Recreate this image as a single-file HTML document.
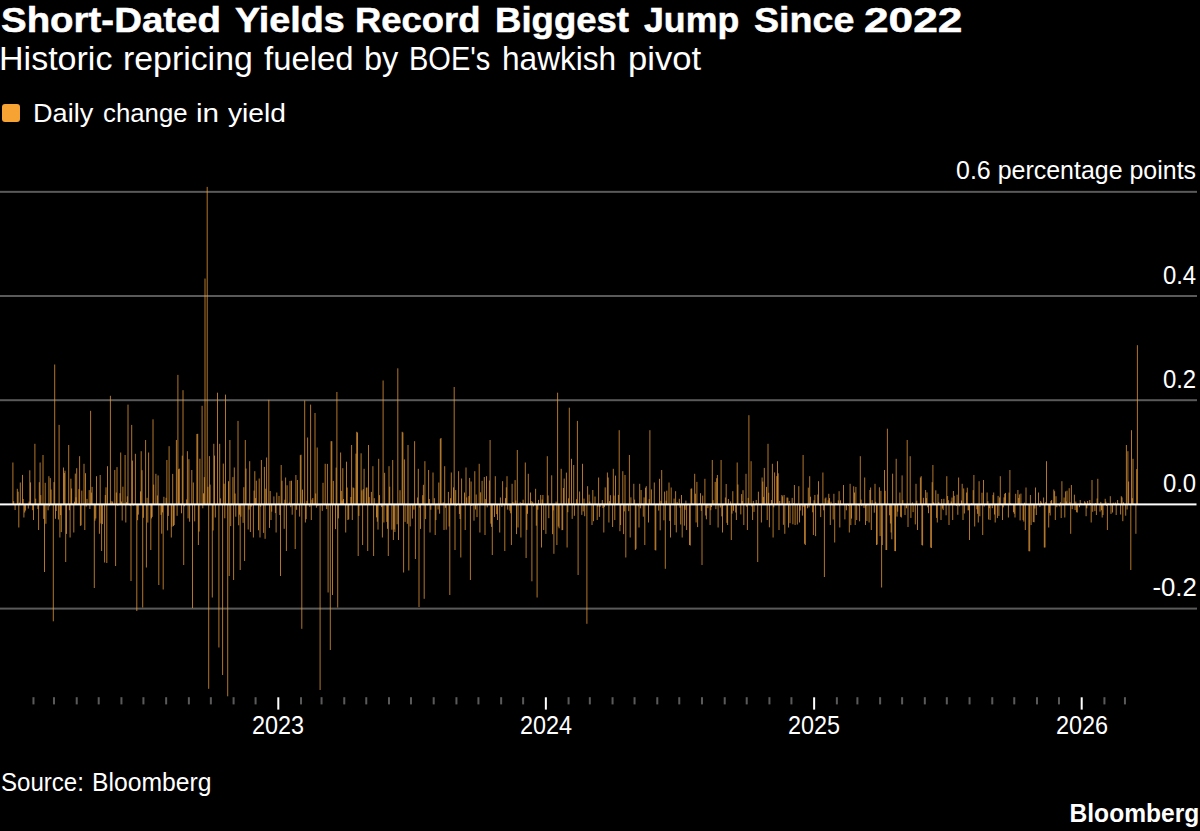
<!DOCTYPE html>
<html><head><meta charset="utf-8"><style>
html,body{margin:0;padding:0;background:#000;}
body{width:1200px;height:831px;overflow:hidden;position:relative;font-family:"Liberation Sans",sans-serif;color:#fff;}
.t{position:absolute;white-space:nowrap;line-height:1;}
.w{position:absolute;white-space:nowrap;line-height:1;transform-origin:0 0;}
#title{left:1px;top:3.4px;font-size:35.5px;font-weight:700;transform:scaleX(1.0837);transform-origin:0 0;-webkit-text-stroke:0.5px #fff;}
#sub{left:-0.5px;top:40.9px;font-size:34px;transform:scaleX(0.975);transform-origin:0 0;}
#legsw{position:absolute;left:2px;top:104px;width:18px;height:18px;border-radius:3px;background:#F7A333;}
#leg{left:33.9px;top:99.7px;font-size:26px;transform:scaleX(1.054);transform-origin:0 0;}
.yl{position:absolute;right:3.5px;font-size:26px;line-height:1;white-space:nowrap;transform-origin:100% 0;}
.xl{position:absolute;top:712.2px;width:200px;text-align:center;font-size:26px;line-height:1;transform:scaleX(0.9);transform-origin:50% 0;}
#src{left:1px;top:770px;font-size:25px;transform:scaleX(0.98);transform-origin:0 0;}
#logo{right:0.5px;top:799.5px;font-size:26px;font-weight:700;transform:scaleX(0.945);transform-origin:100% 0;}
svg{position:absolute;left:0;top:0;}
</style></head><body>
<svg width="1200" height="831" viewBox="0 0 1200 831"><rect x="0" y="190.85" width="1197" height="2" fill="#5a5a5a"/><rect x="0" y="295.00" width="1197" height="2" fill="#5a5a5a"/><rect x="0" y="399.20" width="1197" height="2" fill="#5a5a5a"/><rect x="0" y="607.60" width="1197" height="2" fill="#5a5a5a"/><path d="M12.9 504.4V462.5M13.7 504.4V501.2M14.4 504.4V505.1M15.1 504.4V510.0M17.3 504.4V488.8M18.1 504.4V491.7M18.8 504.4V527.5M19.5 504.4V502.7M20.3 504.4V482.5M22.5 504.4V474.9M23.2 504.4V499.0M23.9 504.4V517.5M24.7 504.4V512.5M25.4 504.4V510.6M27.6 504.4V504.8M28.3 504.4V508.6M29.1 504.4V501.6M29.8 504.4V470.3M30.5 504.4V482.4M32.7 504.4V510.2M33.5 504.4V520.0M34.2 504.4V504.8M34.9 504.4V443.8M35.7 504.4V498.7M37.9 504.4V509.1M38.6 504.4V530.0M39.3 504.4V482.2M40.1 504.4V462.5M40.8 504.4V495.1M43.0 504.4V455.0M43.7 504.4V518.9M44.5 504.4V572.0M45.2 504.4V482.8M45.9 504.4V523.8M48.1 504.4V510.3M48.9 504.4V476.2M49.6 504.4V506.3M50.3 504.4V478.1M51.1 504.4V489.5M53.3 504.4V621.3M54.0 504.4V482.1M54.7 504.4V364.5M55.5 504.4V518.8M56.2 504.4V511.0M58.4 504.4V519.5M59.1 504.4V424.9M59.9 504.4V537.5M60.6 504.4V515.1M61.3 504.4V532.1M63.5 504.4V467.5M64.3 504.4V473.0M65.0 504.4V470.7M65.7 504.4V562.0M66.5 504.4V533.9M68.7 504.4V445.0M69.4 504.4V510.2M70.1 504.4V537.5M70.9 504.4V478.7M71.6 504.4V488.5M73.8 504.4V532.5M74.5 504.4V501.7M75.3 504.4V473.6M76.0 504.4V497.3M76.7 504.4V468.2M78.9 504.4V489.1M79.6 504.4V456.2M80.4 504.4V525.9M81.1 504.4V525.3M81.8 504.4V490.6M84.0 504.4V463.8M84.8 504.4V530.0M85.5 504.4V473.2M86.2 504.4V506.6M87.0 504.4V498.9M89.2 504.4V490.1M89.9 504.4V509.0M90.6 504.4V410.8M91.4 504.4V492.6M92.1 504.4V486.9M94.3 504.4V588.0M95.0 504.4V520.7M95.8 504.4V518.5M96.5 504.4V476.2M97.2 504.4V505.0M99.4 504.4V533.8M100.2 504.4V475.0M100.9 504.4V523.5M101.6 504.4V551.0M102.4 504.4V524.1M104.6 504.4V562.5M105.3 504.4V495.0M106.0 504.4V487.3M106.8 504.4V563.0M107.5 504.4V466.2M109.7 504.4V503.5M110.4 504.4V395.8M111.2 504.4V501.2M111.9 504.4V503.7M112.6 504.4V501.5M114.8 504.4V470.0M115.6 504.4V566.0M116.3 504.4V492.5M117.0 504.4V467.1M117.8 504.4V505.8M120.0 504.4V493.2M120.7 504.4V452.5M121.4 504.4V501.5M122.2 504.4V520.5M122.9 504.4V486.7M125.1 504.4V455.0M125.8 504.4V522.5M126.6 504.4V502.1M127.3 504.4V496.3M128.0 504.4V404.6M130.2 504.4V505.9M131.0 504.4V581.0M131.7 504.4V424.9M132.4 504.4V460.6M133.2 504.4V505.7M135.4 504.4V453.8M136.1 504.4V504.5M136.8 504.4V611.0M137.6 504.4V520.2M138.3 504.4V514.6M140.5 504.4V491.4M141.2 504.4V451.2M142.0 504.4V470.2M142.7 504.4V607.5M143.4 504.4V517.8M145.6 504.4V440.0M146.4 504.4V567.5M147.1 504.4V497.8M147.8 504.4V522.6M148.6 504.4V452.5M150.8 504.4V550.0M151.5 504.4V518.4M152.2 504.4V516.9M153.0 504.4V419.3M153.7 504.4V484.6M155.9 504.4V473.8M156.6 504.4V503.9M157.4 504.4V495.5M158.1 504.4V475.4M158.8 504.4V585.0M161.0 504.4V514.9M161.7 504.4V533.7M162.5 504.4V512.4M163.2 504.4V589.5M163.9 504.4V496.8M166.1 504.4V497.8M166.9 504.4V460.0M167.6 504.4V530.4M168.3 504.4V515.9M169.1 504.4V446.2M171.3 504.4V537.5M172.0 504.4V526.7M172.7 504.4V473.9M173.5 504.4V526.1M174.2 504.4V525.0M176.4 504.4V440.0M177.1 504.4V515.8M177.9 504.4V374.9M178.6 504.4V469.2M179.3 504.4V468.6M181.5 504.4V513.3M182.3 504.4V455.7M183.0 504.4V390.2M183.7 504.4V565.0M184.5 504.4V506.3M186.7 504.4V499.4M187.4 504.4V451.2M188.1 504.4V518.4M188.9 504.4V459.2M189.6 504.4V521.7M191.8 504.4V470.0M192.5 504.4V608.0M193.3 504.4V482.5M194.0 504.4V504.2M194.7 504.4V521.4M196.9 504.4V434.0M197.7 504.4V433.8M198.4 504.4V545.0M199.1 504.4V531.6M199.9 504.4V458.7M202.1 504.4V405.8M202.8 504.4V508.3M203.5 504.4V493.3M204.3 504.4V477.1M205.0 504.4V278.5M207.2 504.4V186.9M207.9 504.4V486.8M208.7 504.4V688.8M209.4 504.4V456.1M210.1 504.4V484.6M212.3 504.4V597.5M213.1 504.4V530.5M213.8 504.4V443.8M214.5 504.4V455.6M215.3 504.4V517.5M217.5 504.4V392.7M218.2 504.4V504.6M218.9 504.4V647.5M219.7 504.4V443.8M220.4 504.4V498.4M222.6 504.4V675.0M223.3 504.4V463.6M224.1 504.4V483.7M224.8 504.4V518.3M225.5 504.4V394.6M227.7 504.4V696.3M228.5 504.4V481.2M229.2 504.4V576.0M229.9 504.4V440.0M230.7 504.4V526.1M232.9 504.4V477.1M233.6 504.4V580.0M234.3 504.4V467.5M235.1 504.4V493.5M235.8 504.4V516.7M238.0 504.4V420.9M238.7 504.4V525.3M239.4 504.4V514.7M240.2 504.4V570.0M240.9 504.4V516.7M243.1 504.4V522.9M243.8 504.4V487.2M244.6 504.4V561.0M245.3 504.4V440.0M246.0 504.4V468.5M248.2 504.4V529.5M249.0 504.4V509.6M249.7 504.4V461.2M250.4 504.4V532.0M251.2 504.4V506.7M253.4 504.4V537.5M254.1 504.4V490.6M254.8 504.4V471.2M255.6 504.4V498.1M256.3 504.4V480.7M258.5 504.4V530.3M259.2 504.4V478.5M260.0 504.4V537.5M260.7 504.4V506.8M261.4 504.4V460.0M263.6 504.4V532.9M264.4 504.4V466.9M265.1 504.4V538.8M265.8 504.4V488.7M266.6 504.4V457.5M268.8 504.4V399.9M269.5 504.4V527.9M270.2 504.4V491.0M271.0 504.4V520.0M271.7 504.4V511.7M273.9 504.4V496.4M274.6 504.4V504.6M275.4 504.4V513.1M276.1 504.4V532.5M276.8 504.4V492.5M279.0 504.4V496.0M279.8 504.4V515.0M280.5 504.4V576.0M281.2 504.4V465.0M282.0 504.4V480.7M284.2 504.4V528.8M284.9 504.4V499.7M285.6 504.4V477.5M286.4 504.4V551.0M287.1 504.4V485.3M289.3 504.4V502.5M290.0 504.4V480.9M290.8 504.4V507.2M291.5 504.4V480.7M292.2 504.4V514.7M294.4 504.4V503.5M295.2 504.4V549.0M295.9 504.4V475.0M296.6 504.4V509.8M297.4 504.4V480.0M299.6 504.4V516.6M300.3 504.4V455.2M301.0 504.4V454.7M301.8 504.4V628.8M302.5 504.4V489.6M304.7 504.4V400.5M305.4 504.4V522.5M306.2 504.4V519.2M306.9 504.4V500.8M307.6 504.4V437.5M309.8 504.4V506.9M310.6 504.4V404.6M311.3 504.4V520.0M312.0 504.4V499.6M312.8 504.4V498.0M315.0 504.4V413.0M315.7 504.4V493.5M316.4 504.4V507.7M317.2 504.4V447.5M317.9 504.4V506.1M320.1 504.4V690.0M320.8 504.4V504.1M321.5 504.4V504.2M322.3 504.4V510.9M323.0 504.4V482.8M325.2 504.4V463.8M325.9 504.4V505.3M326.7 504.4V509.1M327.4 504.4V463.9M328.1 504.4V592.5M330.3 504.4V650.0M331.1 504.4V441.2M331.8 504.4V441.2M332.5 504.4V595.0M333.3 504.4V480.9M335.5 504.4V529.1M336.2 504.4V467.6M336.9 504.4V392.0M337.7 504.4V607.5M338.4 504.4V518.4M340.6 504.4V452.5M341.3 504.4V490.9M342.1 504.4V500.6M342.8 504.4V468.2M343.5 504.4V499.0M345.7 504.4V532.5M346.5 504.4V461.7M347.2 504.4V487.5M347.9 504.4V520.0M348.7 504.4V519.4M350.9 504.4V497.0M351.6 504.4V445.0M352.3 504.4V520.0M353.1 504.4V487.4M353.8 504.4V488.1M356.0 504.4V453.6M356.7 504.4V431.8M357.5 504.4V432.5M358.2 504.4V556.0M358.9 504.4V515.9M361.1 504.4V453.3M361.9 504.4V490.4M362.6 504.4V545.0M363.3 504.4V489.1M364.1 504.4V468.8M366.3 504.4V487.6M367.0 504.4V487.5M367.7 504.4V551.0M368.5 504.4V445.0M369.2 504.4V497.1M371.4 504.4V491.9M372.1 504.4V504.1M372.9 504.4V466.2M373.6 504.4V556.0M374.3 504.4V498.2M376.5 504.4V517.4M377.3 504.4V521.7M378.0 504.4V529.6M378.7 504.4V458.8M379.5 504.4V495.1M381.7 504.4V507.1M382.4 504.4V537.5M383.1 504.4V380.5M383.9 504.4V522.5M384.6 504.4V472.8M386.8 504.4V521.9M387.5 504.4V528.8M388.3 504.4V556.0M389.0 504.4V466.2M389.7 504.4V486.7M391.9 504.4V529.7M392.7 504.4V460.0M393.4 504.4V540.0M394.1 504.4V529.4M394.9 504.4V532.0M397.1 504.4V524.3M397.8 504.4V368.3M398.5 504.4V540.0M399.2 504.4V503.8M400.0 504.4V490.2M402.2 504.4V431.8M402.9 504.4V432.5M403.6 504.4V572.5M404.4 504.4V459.4M405.1 504.4V521.9M407.3 504.4V523.8M408.0 504.4V445.0M408.8 504.4V570.5M409.5 504.4V504.4M410.2 504.4V526.4M412.4 504.4V518.6M413.2 504.4V505.3M413.9 504.4V509.7M414.6 504.4V441.2M415.4 504.4V559.0M417.6 504.4V497.5M418.3 504.4V468.8M419.0 504.4V607.0M419.8 504.4V507.6M420.5 504.4V528.9M422.7 504.4V495.2M423.4 504.4V484.8M424.2 504.4V598.8M424.9 504.4V461.2M425.6 504.4V519.1M427.8 504.4V505.4M428.6 504.4V470.0M429.3 504.4V499.0M430.0 504.4V532.5M430.8 504.4V509.8M433.0 504.4V472.5M433.7 504.4V504.5M434.4 504.4V498.2M435.2 504.4V535.0M435.9 504.4V520.1M438.1 504.4V509.5M438.8 504.4V482.5M439.6 504.4V513.7M440.3 504.4V438.8M441.0 504.4V438.0M443.2 504.4V502.3M444.0 504.4V530.0M444.7 504.4V466.2M445.4 504.4V507.8M446.2 504.4V529.7M448.4 504.4V491.9M449.1 504.4V526.5M449.8 504.4V595.0M450.6 504.4V498.2M451.3 504.4V472.5M453.5 504.4V487.4M454.2 504.4V387.0M455.0 504.4V550.0M455.7 504.4V490.1M456.4 504.4V506.1M458.6 504.4V471.2M459.4 504.4V514.0M460.1 504.4V519.0M460.8 504.4V557.5M461.6 504.4V478.5M463.8 504.4V504.2M464.5 504.4V492.5M465.2 504.4V530.0M466.0 504.4V467.5M466.7 504.4V497.4M468.9 504.4V496.1M469.6 504.4V477.9M470.4 504.4V580.0M471.1 504.4V481.5M471.8 504.4V506.0M474.0 504.4V520.7M474.8 504.4V471.2M475.5 504.4V509.5M476.2 504.4V494.5M477.0 504.4V517.1M479.2 504.4V463.8M479.9 504.4V532.5M480.6 504.4V492.3M481.3 504.4V503.7M482.1 504.4V480.8M484.3 504.4V477.0M485.0 504.4V535.0M485.7 504.4V499.1M486.5 504.4V476.2M487.2 504.4V507.3M489.4 504.4V480.5M490.1 504.4V440.0M490.9 504.4V523.7M491.6 504.4V526.9M492.3 504.4V555.0M494.5 504.4V517.0M495.3 504.4V476.2M496.0 504.4V505.0M496.7 504.4V514.2M497.5 504.4V520.0M499.7 504.4V532.5M500.4 504.4V497.5M501.1 504.4V503.9M501.9 504.4V506.9M502.6 504.4V481.2M504.8 504.4V551.0M505.5 504.4V498.1M506.3 504.4V487.3M507.0 504.4V476.2M507.7 504.4V509.6M509.9 504.4V510.7M510.7 504.4V513.3M511.4 504.4V545.0M512.1 504.4V483.8M512.9 504.4V502.0M515.1 504.4V480.1M515.8 504.4V500.5M516.5 504.4V534.1M517.3 504.4V450.0M518.0 504.4V527.5M520.2 504.4V502.3M520.9 504.4V537.5M521.7 504.4V503.2M522.4 504.4V503.2M523.1 504.4V499.7M525.3 504.4V462.5M526.1 504.4V558.0M526.8 504.4V529.9M527.5 504.4V513.8M528.3 504.4V473.8M530.5 504.4V492.5M531.2 504.4V501.0M531.9 504.4V581.3M532.7 504.4V501.7M533.4 504.4V506.4M535.6 504.4V488.8M536.3 504.4V525.7M537.1 504.4V597.5M537.8 504.4V509.7M538.5 504.4V499.9M540.7 504.4V495.0M541.5 504.4V547.5M542.2 504.4V499.5M542.9 504.4V495.0M543.7 504.4V530.0M545.9 504.4V533.9M546.6 504.4V504.7M547.3 504.4V456.2M548.1 504.4V495.4M548.8 504.4V518.2M551.0 504.4V504.4M551.7 504.4V475.3M552.5 504.4V534.2M553.2 504.4V510.4M553.9 504.4V553.8M556.1 504.4V501.6M556.9 504.4V545.0M557.6 504.4V392.7M558.3 504.4V526.6M559.1 504.4V528.3M561.2 504.4V468.8M562.0 504.4V530.2M562.7 504.4V530.0M563.4 504.4V488.0M564.2 504.4V478.6M566.4 504.4V472.6M567.1 504.4V547.5M567.8 504.4V512.2M568.6 504.4V498.3M569.3 504.4V407.7M571.5 504.4V458.8M572.2 504.4V518.9M573.0 504.4V503.2M573.7 504.4V465.0M574.4 504.4V515.8M576.6 504.4V499.2M577.4 504.4V420.9M578.1 504.4V575.0M578.8 504.4V504.4M579.6 504.4V491.5M581.8 504.4V514.9M582.5 504.4V463.8M583.2 504.4V511.4M584.0 504.4V498.6M584.7 504.4V516.2M586.9 504.4V623.8M587.6 504.4V486.2M588.4 504.4V504.3M589.1 504.4V494.6M589.8 504.4V501.6M592.0 504.4V525.0M592.8 504.4V490.0M593.5 504.4V521.2M594.2 504.4V504.1M595.0 504.4V496.5M597.2 504.4V520.0M597.9 504.4V506.7M598.6 504.4V477.5M599.4 504.4V516.9M600.1 504.4V506.8M602.3 504.4V500.0M603.0 504.4V508.0M603.8 504.4V532.5M604.5 504.4V506.8M605.2 504.4V487.4M607.4 504.4V472.5M608.2 504.4V477.5M608.9 504.4V522.5M609.6 504.4V501.1M610.4 504.4V495.2M612.6 504.4V527.0M613.3 504.4V468.8M614.0 504.4V495.5M614.8 504.4V520.0M615.5 504.4V475.6M617.7 504.4V503.7M618.4 504.4V494.9M619.2 504.4V430.2M619.9 504.4V531.2M620.6 504.4V525.0M622.8 504.4V471.2M623.6 504.4V534.1M624.3 504.4V511.4M625.0 504.4V475.0M625.8 504.4V557.5M628.0 504.4V504.7M628.7 504.4V511.2M629.4 504.4V455.0M630.2 504.4V537.5M630.9 504.4V497.3M633.1 504.4V504.4M633.8 504.4V483.8M634.6 504.4V499.6M635.3 504.4V550.0M636.0 504.4V548.8M638.2 504.4V506.4M639.0 504.4V527.5M639.7 504.4V483.8M640.4 504.4V508.3M641.1 504.4V490.0M643.3 504.4V516.7M644.1 504.4V497.4M644.8 504.4V545.0M645.5 504.4V487.7M646.3 504.4V486.2M648.5 504.4V522.5M649.2 504.4V499.1M649.9 504.4V430.2M650.7 504.4V504.8M651.4 504.4V489.4M653.6 504.4V505.0M654.3 504.4V482.5M655.1 504.4V550.0M655.8 504.4V550.5M656.5 504.4V503.9M658.7 504.4V510.6M659.5 504.4V478.8M660.2 504.4V530.3M660.9 504.4V500.8M661.7 504.4V470.0M663.9 504.4V520.3M664.6 504.4V491.6M665.3 504.4V568.8M666.1 504.4V500.7M666.8 504.4V490.7M669.0 504.4V482.5M669.7 504.4V520.9M670.5 504.4V537.5M671.2 504.4V487.5M671.9 504.4V504.6M674.1 504.4V498.6M674.9 504.4V525.0M675.6 504.4V491.2M676.3 504.4V532.4M677.1 504.4V502.1M679.3 504.4V498.8M680.0 504.4V507.7M680.7 504.4V524.5M681.5 504.4V495.0M682.2 504.4V537.5M684.4 504.4V525.7M685.1 504.4V509.8M685.9 504.4V500.6M686.6 504.4V530.0M687.3 504.4V505.3M689.5 504.4V545.0M690.3 504.4V545.5M691.0 504.4V488.8M691.7 504.4V488.4M692.5 504.4V503.7M694.7 504.4V473.8M695.4 504.4V493.7M696.1 504.4V522.5M696.9 504.4V481.9M697.6 504.4V527.1M699.8 504.4V503.3M700.5 504.4V493.2M701.3 504.4V510.9M702.0 504.4V565.0M702.7 504.4V495.6M704.9 504.4V478.8M705.7 504.4V515.5M706.4 504.4V519.3M707.1 504.4V505.6M707.9 504.4V508.2M710.1 504.4V525.0M710.8 504.4V510.2M711.5 504.4V507.0M712.3 504.4V460.0M713.0 504.4V500.1M715.2 504.4V481.9M715.9 504.4V509.2M716.7 504.4V478.2M717.4 504.4V475.0M718.1 504.4V527.5M720.3 504.4V507.5M721.1 504.4V460.0M721.8 504.4V516.4M722.5 504.4V532.5M723.2 504.4V505.5M725.4 504.4V497.5M726.2 504.4V484.0M726.9 504.4V522.9M727.6 504.4V525.0M728.4 504.4V499.0M730.6 504.4V501.4M731.3 504.4V540.0M732.0 504.4V513.6M732.8 504.4V491.2M733.5 504.4V510.8M735.7 504.4V512.5M736.4 504.4V520.0M737.2 504.4V462.5M737.9 504.4V484.5M738.6 504.4V505.4M740.8 504.4V514.4M741.6 504.4V494.1M742.3 504.4V500.9M743.0 504.4V490.2M743.8 504.4V525.0M746.0 504.4V473.8M746.7 504.4V506.7M747.4 504.4V530.0M748.2 504.4V497.9M748.9 504.4V415.2M751.1 504.4V461.2M751.8 504.4V506.5M752.6 504.4V520.0M753.3 504.4V500.9M754.0 504.4V511.9M756.2 504.4V500.0M757.0 504.4V503.0M757.7 504.4V562.0M758.4 504.4V491.7M759.2 504.4V505.1M761.4 504.4V522.5M762.1 504.4V477.5M762.8 504.4V481.6M763.6 504.4V496.9M764.3 504.4V467.9M766.5 504.4V486.9M767.2 504.4V520.0M768.0 504.4V443.8M768.7 504.4V492.7M769.4 504.4V527.3M771.6 504.4V500.0M772.4 504.4V463.8M773.1 504.4V537.5M773.8 504.4V507.3M774.6 504.4V472.4M776.8 504.4V476.1M777.5 504.4V461.2M778.2 504.4V473.3M779.0 504.4V530.0M779.7 504.4V501.0M781.9 504.4V495.0M782.6 504.4V496.3M783.4 504.4V524.8M784.1 504.4V495.0M784.8 504.4V533.8M787.0 504.4V497.5M787.8 504.4V497.7M788.5 504.4V527.5M789.2 504.4V501.0M790.0 504.4V523.2M792.2 504.4V497.9M792.9 504.4V524.3M793.6 504.4V503.3M794.4 504.4V485.0M795.1 504.4V525.0M797.3 504.4V524.5M798.0 504.4V504.0M798.8 504.4V486.2M799.5 504.4V522.5M800.2 504.4V510.5M802.4 504.4V515.6M803.1 504.4V455.0M803.9 504.4V506.9M804.6 504.4V543.8M805.3 504.4V545.0M807.5 504.4V508.3M808.3 504.4V487.6M809.0 504.4V507.4M809.7 504.4V476.2M810.5 504.4V496.7M812.7 504.4V512.3M813.4 504.4V535.0M814.1 504.4V500.3M814.9 504.4V495.0M815.6 504.4V536.1M817.8 504.4V494.5M818.5 504.4V481.2M819.3 504.4V504.8M820.0 504.4V506.1M820.7 504.4V517.1M822.9 504.4V472.5M823.7 504.4V510.3M824.4 504.4V577.0M825.1 504.4V498.5M825.9 504.4V497.5M828.1 504.4V500.3M828.8 504.4V493.8M829.5 504.4V498.1M830.3 504.4V525.0M831.0 504.4V501.7M833.2 504.4V519.5M833.9 504.4V493.8M834.7 504.4V542.5M835.4 504.4V503.1M836.1 504.4V503.4M838.3 504.4V500.4M839.1 504.4V491.2M839.8 504.4V527.5M840.5 504.4V500.3M841.3 504.4V504.7M843.5 504.4V485.0M844.2 504.4V505.2M844.9 504.4V519.4M845.7 504.4V504.9M846.4 504.4V510.3M848.6 504.4V506.0M849.3 504.4V532.5M850.1 504.4V483.8M850.8 504.4V525.1M851.5 504.4V518.6M853.7 504.4V486.3M854.5 504.4V492.5M855.2 504.4V525.0M855.9 504.4V486.9M856.7 504.4V520.0M858.9 504.4V506.2M859.6 504.4V521.3M860.3 504.4V456.2M861.1 504.4V499.6M861.8 504.4V506.1M864.0 504.4V507.9M864.7 504.4V477.5M865.5 504.4V525.0M866.2 504.4V505.9M866.9 504.4V521.0M869.1 504.4V522.5M869.9 504.4V490.0M870.6 504.4V487.5M871.3 504.4V530.0M872.1 504.4V500.1M874.3 504.4V512.7M875.0 504.4V483.8M875.7 504.4V501.8M876.5 504.4V545.0M877.2 504.4V544.5M879.4 504.4V487.3M880.1 504.4V536.1M880.9 504.4V490.8M881.6 504.4V587.5M882.3 504.4V545.0M884.5 504.4V470.0M885.2 504.4V490.8M886.0 504.4V550.0M886.7 504.4V550.0M887.4 504.4V428.7M889.6 504.4V515.3M890.4 504.4V523.5M891.1 504.4V532.5M891.8 504.4V539.3M892.6 504.4V473.7M894.8 504.4V551.0M895.5 504.4V551.2M896.2 504.4V458.8M897.0 504.4V516.6M897.7 504.4V511.7M899.9 504.4V492.5M900.6 504.4V516.8M901.4 504.4V517.5M902.1 504.4V475.4M902.8 504.4V500.1M905.0 504.4V515.0M905.8 504.4V504.8M906.5 504.4V508.3M907.2 504.4V440.0M908.0 504.4V527.0M910.2 504.4V456.2M910.9 504.4V517.9M911.6 504.4V504.4M912.4 504.4V502.4M913.1 504.4V512.1M915.3 504.4V524.4M916.0 504.4V483.8M916.8 504.4V500.7M917.5 504.4V530.0M918.2 504.4V504.7M920.4 504.4V477.5M921.2 504.4V476.2M921.9 504.4V545.0M922.6 504.4V545.5M923.4 504.4V497.8M925.6 504.4V490.0M926.3 504.4V498.1M927.0 504.4V492.4M927.8 504.4V507.3M928.5 504.4V513.2M930.7 504.4V547.5M931.4 504.4V548.0M932.2 504.4V482.2M932.9 504.4V465.0M933.6 504.4V502.4M935.8 504.4V490.3M936.6 504.4V517.9M937.3 504.4V522.5M938.0 504.4V493.8M938.8 504.4V502.1M941.0 504.4V520.0M941.7 504.4V499.0M942.4 504.4V508.6M943.2 504.4V510.1M943.9 504.4V498.8M946.1 504.4V515.3M946.8 504.4V476.2M947.6 504.4V496.0M948.3 504.4V500.2M949.0 504.4V525.0M951.2 504.4V501.5M952.0 504.4V497.5M952.7 504.4V520.0M953.4 504.4V491.0M954.2 504.4V495.8M956.4 504.4V505.9M957.1 504.4V494.7M957.8 504.4V514.8M958.6 504.4V477.5M959.3 504.4V506.3M961.5 504.4V500.5M962.2 504.4V483.8M963.0 504.4V520.0M963.7 504.4V488.4M964.4 504.4V513.5M966.6 504.4V492.5M967.3 504.4V487.7M968.1 504.4V510.4M968.8 504.4V510.2M969.5 504.4V540.0M971.7 504.4V503.2M972.5 504.4V504.1M973.2 504.4V490.1M973.9 504.4V475.0M974.7 504.4V526.5M976.9 504.4V509.3M977.6 504.4V513.8M978.3 504.4V522.5M979.1 504.4V481.2M979.8 504.4V516.3M982.0 504.4V492.7M982.7 504.4V535.0M983.5 504.4V480.0M984.2 504.4V506.6M984.9 504.4V504.5M987.1 504.4V492.5M987.9 504.4V501.2M988.6 504.4V519.5M989.3 504.4V508.2M990.1 504.4V520.0M992.3 504.4V508.2M993.0 504.4V495.0M993.7 504.4V492.5M994.5 504.4V514.5M995.2 504.4V522.5M997.4 504.4V518.1M998.1 504.4V495.9M998.9 504.4V515.9M999.6 504.4V497.4M1000.3 504.4V476.2M1002.5 504.4V520.0M1003.3 504.4V507.4M1004.0 504.4V497.4M1004.7 504.4V493.8M1005.5 504.4V492.9M1007.7 504.4V504.3M1008.4 504.4V517.5M1009.1 504.4V492.6M1009.9 504.4V470.0M1010.6 504.4V503.4M1012.8 504.4V504.2M1013.5 504.4V512.2M1014.3 504.4V513.8M1015.0 504.4V517.5M1015.7 504.4V493.8M1017.9 504.4V490.0M1018.7 504.4V497.9M1019.4 504.4V494.4M1020.1 504.4V520.4M1020.9 504.4V493.6M1023.1 504.4V520.0M1023.8 504.4V521.6M1024.5 504.4V502.7M1025.3 504.4V530.0M1026.0 504.4V487.5M1028.2 504.4V504.2M1028.9 504.4V551.2M1029.7 504.4V551.3M1030.4 504.4V495.0M1031.1 504.4V525.0M1033.3 504.4V522.0M1034.1 504.4V522.3M1034.8 504.4V508.5M1035.5 504.4V487.5M1036.3 504.4V515.0M1038.5 504.4V492.5M1039.2 504.4V503.7M1039.9 504.4V507.0M1040.7 504.4V500.9M1041.4 504.4V502.6M1043.6 504.4V497.5M1044.3 504.4V547.5M1045.0 504.4V547.5M1045.8 504.4V502.0M1046.5 504.4V461.2M1048.7 504.4V527.5M1049.4 504.4V512.9M1050.2 504.4V515.5M1050.9 504.4V501.0M1051.6 504.4V500.0M1053.8 504.4V489.5M1054.6 504.4V491.2M1055.3 504.4V520.0M1056.0 504.4V496.2M1056.8 504.4V507.2M1059.0 504.4V505.3M1059.7 504.4V506.5M1060.4 504.4V502.2M1061.2 504.4V518.0M1061.9 504.4V481.2M1064.1 504.4V497.5M1064.8 504.4V517.5M1065.6 504.4V491.4M1066.3 504.4V501.5M1067.0 504.4V490.7M1069.2 504.4V488.2M1070.0 504.4V502.0M1070.7 504.4V533.8M1071.4 504.4V485.0M1072.2 504.4V509.2M1074.4 504.4V494.7M1075.1 504.4V510.0M1075.8 504.4V501.5M1076.6 504.4V512.2M1077.3 504.4V512.5M1079.5 504.4V507.2M1080.2 504.4V500.0M1081.0 504.4V503.2M1081.7 504.4V504.8M1082.4 504.4V504.5M1084.6 504.4V501.3M1085.4 504.4V502.5M1086.1 504.4V516.2M1086.8 504.4V508.3M1087.6 504.4V501.0M1089.8 504.4V500.0M1090.5 504.4V503.0M1091.2 504.4V522.5M1092.0 504.4V480.0M1092.7 504.4V511.8M1094.9 504.4V511.1M1095.6 504.4V503.2M1096.4 504.4V515.0M1097.1 504.4V498.5M1097.8 504.4V478.8M1100.0 504.4V511.6M1100.8 504.4V501.9M1101.5 504.4V510.2M1102.2 504.4V517.5M1103.0 504.4V515.0M1105.2 504.4V498.8M1105.9 504.4V501.7M1106.6 504.4V505.9M1107.4 504.4V530.0M1108.1 504.4V502.9M1110.3 504.4V496.2M1111.0 504.4V513.9M1111.8 504.4V503.9M1112.5 504.4V512.5M1113.2 504.4V502.7M1115.4 504.4V502.5M1116.2 504.4V515.0M1116.9 504.4V505.3M1117.6 504.4V500.0M1118.4 504.4V503.6M1120.6 504.4V514.5M1121.3 504.4V496.2M1122.0 504.4V497.4M1122.8 504.4V521.2M1123.5 504.4V502.3M1125.7 504.4V515.7M1126.4 504.4V445.0M1127.1 504.4V509.5M1127.9 504.4V451.2M1128.6 504.4V481.5M1130.8 504.4V570.0M1131.5 504.4V430.2M1132.3 504.4V498.2M1133.0 504.4V458.8M1133.7 504.4V503.8M1135.9 504.4V533.8M1136.7 504.4V469.1M1137.4 504.4V345.2" stroke="#EC9E3A" stroke-width="0.75" fill="none"/><rect x="0" y="503.40" width="1196.5" height="2" fill="#ffffff"/><rect x="32.47" y="697.2" width="2" height="7.2" fill="#5a5a5a"/><rect x="52.99" y="697.2" width="2" height="7.2" fill="#5a5a5a"/><rect x="75.72" y="697.2" width="2" height="7.2" fill="#5a5a5a"/><rect x="97.71" y="697.2" width="2" height="7.2" fill="#5a5a5a"/><rect x="120.43" y="697.2" width="2" height="7.2" fill="#5a5a5a"/><rect x="142.42" y="697.2" width="2" height="7.2" fill="#5a5a5a"/><rect x="165.15" y="697.2" width="2" height="7.2" fill="#5a5a5a"/><rect x="187.87" y="697.2" width="2" height="7.2" fill="#5a5a5a"/><rect x="209.86" y="697.2" width="2" height="7.2" fill="#5a5a5a"/><rect x="232.59" y="697.2" width="2" height="7.2" fill="#5a5a5a"/><rect x="254.58" y="697.2" width="2" height="7.2" fill="#5a5a5a"/><rect x="300.02" y="697.2" width="2" height="7.2" fill="#5a5a5a"/><rect x="320.55" y="697.2" width="2" height="7.2" fill="#5a5a5a"/><rect x="343.27" y="697.2" width="2" height="7.2" fill="#5a5a5a"/><rect x="365.26" y="697.2" width="2" height="7.2" fill="#5a5a5a"/><rect x="387.99" y="697.2" width="2" height="7.2" fill="#5a5a5a"/><rect x="409.98" y="697.2" width="2" height="7.2" fill="#5a5a5a"/><rect x="432.70" y="697.2" width="2" height="7.2" fill="#5a5a5a"/><rect x="455.43" y="697.2" width="2" height="7.2" fill="#5a5a5a"/><rect x="477.42" y="697.2" width="2" height="7.2" fill="#5a5a5a"/><rect x="500.14" y="697.2" width="2" height="7.2" fill="#5a5a5a"/><rect x="522.13" y="697.2" width="2" height="7.2" fill="#5a5a5a"/><rect x="567.58" y="697.2" width="2" height="7.2" fill="#5a5a5a"/><rect x="588.84" y="697.2" width="2" height="7.2" fill="#5a5a5a"/><rect x="611.56" y="697.2" width="2" height="7.2" fill="#5a5a5a"/><rect x="633.55" y="697.2" width="2" height="7.2" fill="#5a5a5a"/><rect x="656.28" y="697.2" width="2" height="7.2" fill="#5a5a5a"/><rect x="678.27" y="697.2" width="2" height="7.2" fill="#5a5a5a"/><rect x="700.99" y="697.2" width="2" height="7.2" fill="#5a5a5a"/><rect x="723.72" y="697.2" width="2" height="7.2" fill="#5a5a5a"/><rect x="745.71" y="697.2" width="2" height="7.2" fill="#5a5a5a"/><rect x="768.43" y="697.2" width="2" height="7.2" fill="#5a5a5a"/><rect x="790.42" y="697.2" width="2" height="7.2" fill="#5a5a5a"/><rect x="835.87" y="697.2" width="2" height="7.2" fill="#5a5a5a"/><rect x="856.39" y="697.2" width="2" height="7.2" fill="#5a5a5a"/><rect x="879.12" y="697.2" width="2" height="7.2" fill="#5a5a5a"/><rect x="901.11" y="697.2" width="2" height="7.2" fill="#5a5a5a"/><rect x="923.83" y="697.2" width="2" height="7.2" fill="#5a5a5a"/><rect x="945.82" y="697.2" width="2" height="7.2" fill="#5a5a5a"/><rect x="968.55" y="697.2" width="2" height="7.2" fill="#5a5a5a"/><rect x="991.27" y="697.2" width="2" height="7.2" fill="#5a5a5a"/><rect x="1013.26" y="697.2" width="2" height="7.2" fill="#5a5a5a"/><rect x="1035.99" y="697.2" width="2" height="7.2" fill="#5a5a5a"/><rect x="1057.98" y="697.2" width="2" height="7.2" fill="#5a5a5a"/><rect x="1103.42" y="697.2" width="2" height="7.2" fill="#5a5a5a"/><rect x="1123.95" y="697.2" width="2" height="7.2" fill="#5a5a5a"/><rect x="277.30" y="697.3" width="2" height="12.3" fill="#ffffff"/><rect x="544.86" y="697.3" width="2" height="12.3" fill="#ffffff"/><rect x="813.14" y="697.3" width="2" height="12.3" fill="#ffffff"/><rect x="1080.70" y="697.3" width="2" height="12.3" fill="#ffffff"/></svg>
<div class="w" style="left:0.92px;top:3.4px;font-size:35.5px;font-weight:700;transform:scaleX(1.0825);-webkit-text-stroke:0.5px #fff;">Short-Dated</div><div class="w" style="left:235.0px;top:3.4px;font-size:35.5px;font-weight:700;transform:scaleX(1.0637);-webkit-text-stroke:0.5px #fff;">Yields</div><div class="w" style="left:355.45px;top:3.4px;font-size:35.5px;font-weight:700;transform:scaleX(1.0254);-webkit-text-stroke:0.5px #fff;">Record</div><div class="w" style="left:494.64px;top:3.4px;font-size:35.5px;font-weight:700;transform:scaleX(1.0297);-webkit-text-stroke:0.5px #fff;">Biggest</div><div class="w" style="left:644.0px;top:3.4px;font-size:35.5px;font-weight:700;transform:scaleX(1.0053);-webkit-text-stroke:0.5px #fff;">Jump</div><div class="w" style="left:753.94px;top:3.4px;font-size:35.5px;font-weight:700;transform:scaleX(1.0591);-webkit-text-stroke:0.5px #fff;">Since</div><div class="w" style="left:863.75px;top:3.4px;font-size:35.5px;font-weight:700;transform:scaleX(1.2468);-webkit-text-stroke:0.5px #fff;">2022</div>
<div class="w" style="left:-1.5px;top:40.9px;font-size:34px;font-weight:400;transform:scaleX(1.0009);">Historic</div><div class="w" style="left:122.61px;top:40.9px;font-size:34px;font-weight:400;transform:scaleX(0.9952);">repricing</div><div class="w" style="left:264.0px;top:40.9px;font-size:34px;font-weight:400;transform:scaleX(0.967);">fueled</div><div class="w" style="left:363.59px;top:40.9px;font-size:34px;font-weight:400;transform:scaleX(0.9559);">by</div><div class="w" style="left:409.44px;top:40.9px;font-size:34px;font-weight:400;transform:scaleX(0.8527);">BOE&#39;s</div><div class="w" style="left:501.84px;top:40.9px;font-size:34px;font-weight:400;transform:scaleX(0.9294);">hawkish</div><div class="w" style="left:627.77px;top:40.9px;font-size:34px;font-weight:400;transform:scaleX(1.0171);">pivot</div>
<div id="legsw"></div>
<div class="w" style="left:33.31px;top:99.7px;font-size:26px;font-weight:400;transform:scaleX(1.0429);">Daily</div><div class="w" style="left:102.71px;top:99.7px;font-size:26px;font-weight:400;transform:scaleX(0.9916);">change</div><div class="w" style="left:195.62px;top:99.7px;font-size:26px;font-weight:400;transform:scaleX(1.1412);">in</div><div class="w" style="left:228.3px;top:99.7px;font-size:26px;font-weight:400;transform:scaleX(1.0846);">yield</div>
<div class="yl" style="top:157.4px;transform:scaleX(0.96)">0.6 percentage points</div>
<div class="yl" style="top:261.6px;transform:scaleX(0.92)">0.4</div>
<div class="yl" style="top:365.8px;transform:scaleX(0.92)">0.2</div>
<div class="yl" style="top:470px;transform:scaleX(0.92)">0.0</div>
<div class="yl" style="top:574.2px;transform:scaleX(0.99)">-0.2</div>
<div class="xl" style="left:178.30px">2023</div><div class="xl" style="left:445.86px">2024</div><div class="xl" style="left:714.14px">2025</div><div class="xl" style="left:981.70px">2026</div>
<div class="w" style="left:0.84px;top:770px;font-size:25px;font-weight:400;transform:scaleX(0.9627);">Source:</div><div class="w" style="left:92.42px;top:770px;font-size:25px;font-weight:400;transform:scaleX(0.9881);">Bloomberg</div>
<div class="t" id="logo">Bloomberg</div>
</body></html>
